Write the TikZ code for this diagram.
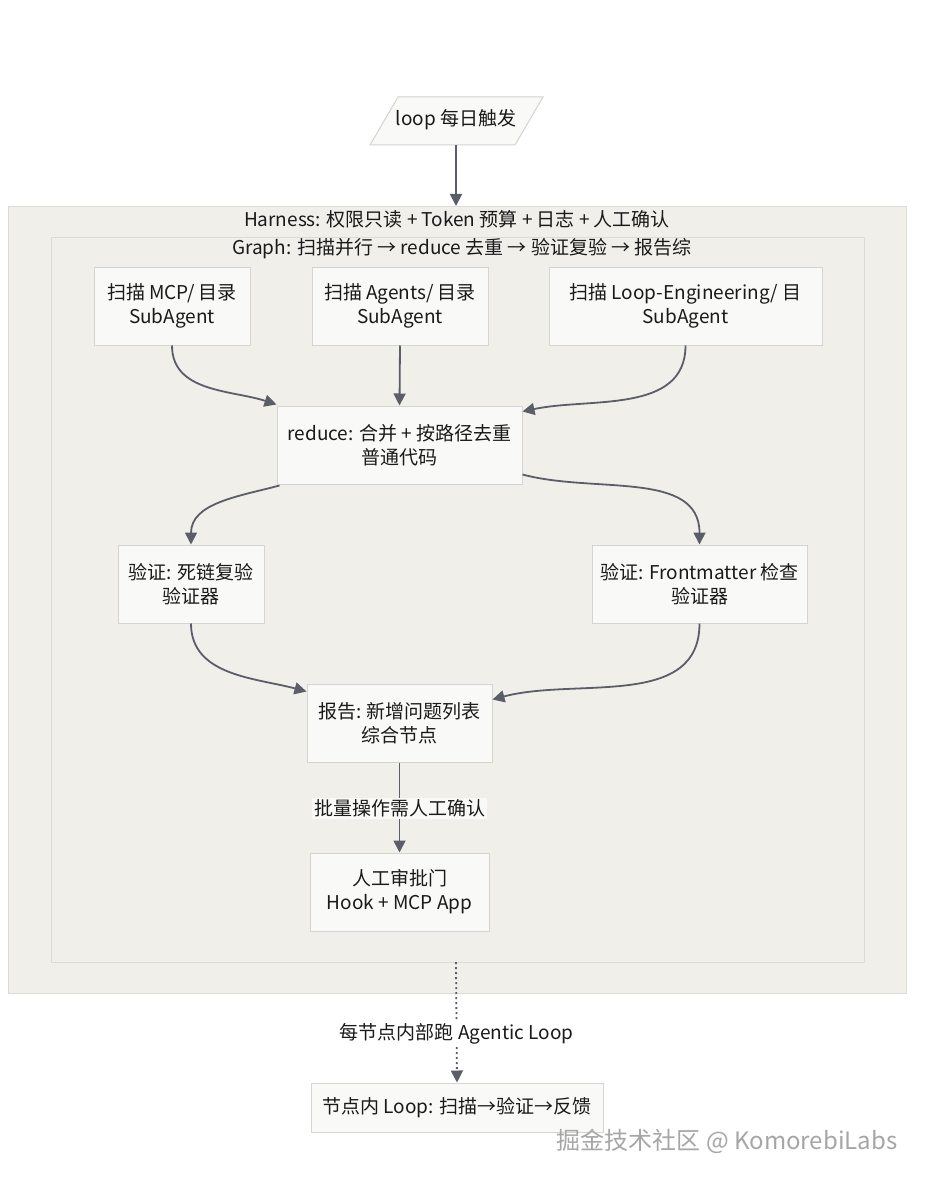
\documentclass[tikz,border=0pt]{standalone}
\usepackage{fontspec}
\setmainfont{Noto Sans CJK SC}
\usetikzlibrary{arrows.meta,calc}
\definecolor{edgec}{HTML}{5B5E69}
\definecolor{nodefill}{HTML}{F9F9F7}
\definecolor{nodeline}{HTML}{D4D4D0}
\definecolor{clusterfill}{HTML}{F0EFEA}
\definecolor{clusterline}{HTML}{DCDCD7}
\definecolor{textc}{HTML}{1A1A1A}
\begin{document}
\begin{tikzpicture}[x=1pt,y=-1pt,
  font=\fontsize{19}{24}\selectfont, text=textc,
  box/.style={draw=nodeline, fill=nodefill, line width=1pt, align=center, inner sep=0pt},
  cluster/.style={draw=clusterline, fill=clusterfill, line width=1pt},
  conn/.style={draw=edgec, line width=1.8pt, -{Triangle[length=12pt,width=12pt]}},
  elabel/.style={inner sep=2pt, text=textc}]
\useasboundingbox[fill=white] (0,0) rectangle (936,1185);

% clusters
\draw[cluster] (8,206) rectangle (906,993);
\draw[cluster] (51,237) rectangle (864,962);
\node (harness) at (457,219) {Harness: 权限只读 + Token 预算 + 日志 + 人工确认};
\node (graph) at (462,249) {Graph: 扫描并行 → reduce 去重 → 验证复验 → 报告综};
\coordinate (outertop) at (456,206);
\coordinate (innerbot) at (456,962);

% start parallelogram
\draw[draw=nodeline, fill=nodefill, line width=1pt] (398,97) -- (543,97) -- (515,145) -- (370,145) -- cycle;
\node (loop) at (456,120) {loop 每日触发};
\coordinate (loopb) at (456,145);

% nodes
\node[box, minimum width=156, minimum height=78] (A) at (172,306) {扫描 MCP/ 目录\\SubAgent};
\node[box, minimum width=176, minimum height=78] (B) at (400,306) {扫描 Agents/ 目录\\SubAgent};
\node[box, minimum width=273, minimum height=78] (C) at (685.5,306) {扫描 Loop-Engineering/ 目\\SubAgent};
\node[box, minimum width=245, minimum height=78] (R) at (399.5,445) {reduce: 合并 + 按路径去重\\普通代码};
\node[box, minimum width=146, minimum height=78] (V1) at (191,584) {验证: 死链复验\\验证器};
\node[box, minimum width=215, minimum height=78] (V2) at (699.5,584) {验证: Frontmatter 检查\\验证器};
\node[box, minimum width=185, minimum height=78] (P) at (399.5,723) {报告: 新增问题列表\\综合节点};
\node[box, minimum width=179, minimum height=78] (G) at (399.5,892) {人工审批门\\Hook + MCP App};
\node[box, minimum width=292, minimum height=49] (L) at (457,1107.5) {节点内 Loop: 扫描→验证→反馈};

% edges
\draw[conn] (loopb) -- (outertop);
\draw[conn] (A.south) to[out=-90,in=162] ($(R.north west)+(0,-1)$);
\draw[conn] (B.south) -- (R.north);
\draw[conn] (C.south) to[out=-90,in=12] ($(R.north east)+(0,6)$);
\draw[conn] ($(R.south west)+(3,1)$) to[out=195,in=90] (V1.north);
\draw[conn] ($(R.south east)+(0,-10)$) to[out=-15,in=90] (V2.north);
\draw[conn] (V1.south) to[out=-90,in=165] ($(P.north west)+(0,8)$);
\draw[conn] (V2.south) to[out=-90,in=15] ($(P.north east)+(0,16)$);
\draw[conn] (P.south) -- (G.north) node[midway, elabel, fill=nodefill, yshift=-1pt] (lb1) {批量操作需人工确认};
\draw[conn, dash pattern=on 2pt off 3pt] (innerbot) -- (L.north) node[pos=0.6, elabel, fill=white] (lb2) {每节点内部跑 Agentic Loop};

% watermark
\node[text=gray!70, font=\fontsize{24}{28}\selectfont] (wm) at (727,1141) {掘金技术社区 @ KomorebiLabs};
\end{tikzpicture}
\end{document}
